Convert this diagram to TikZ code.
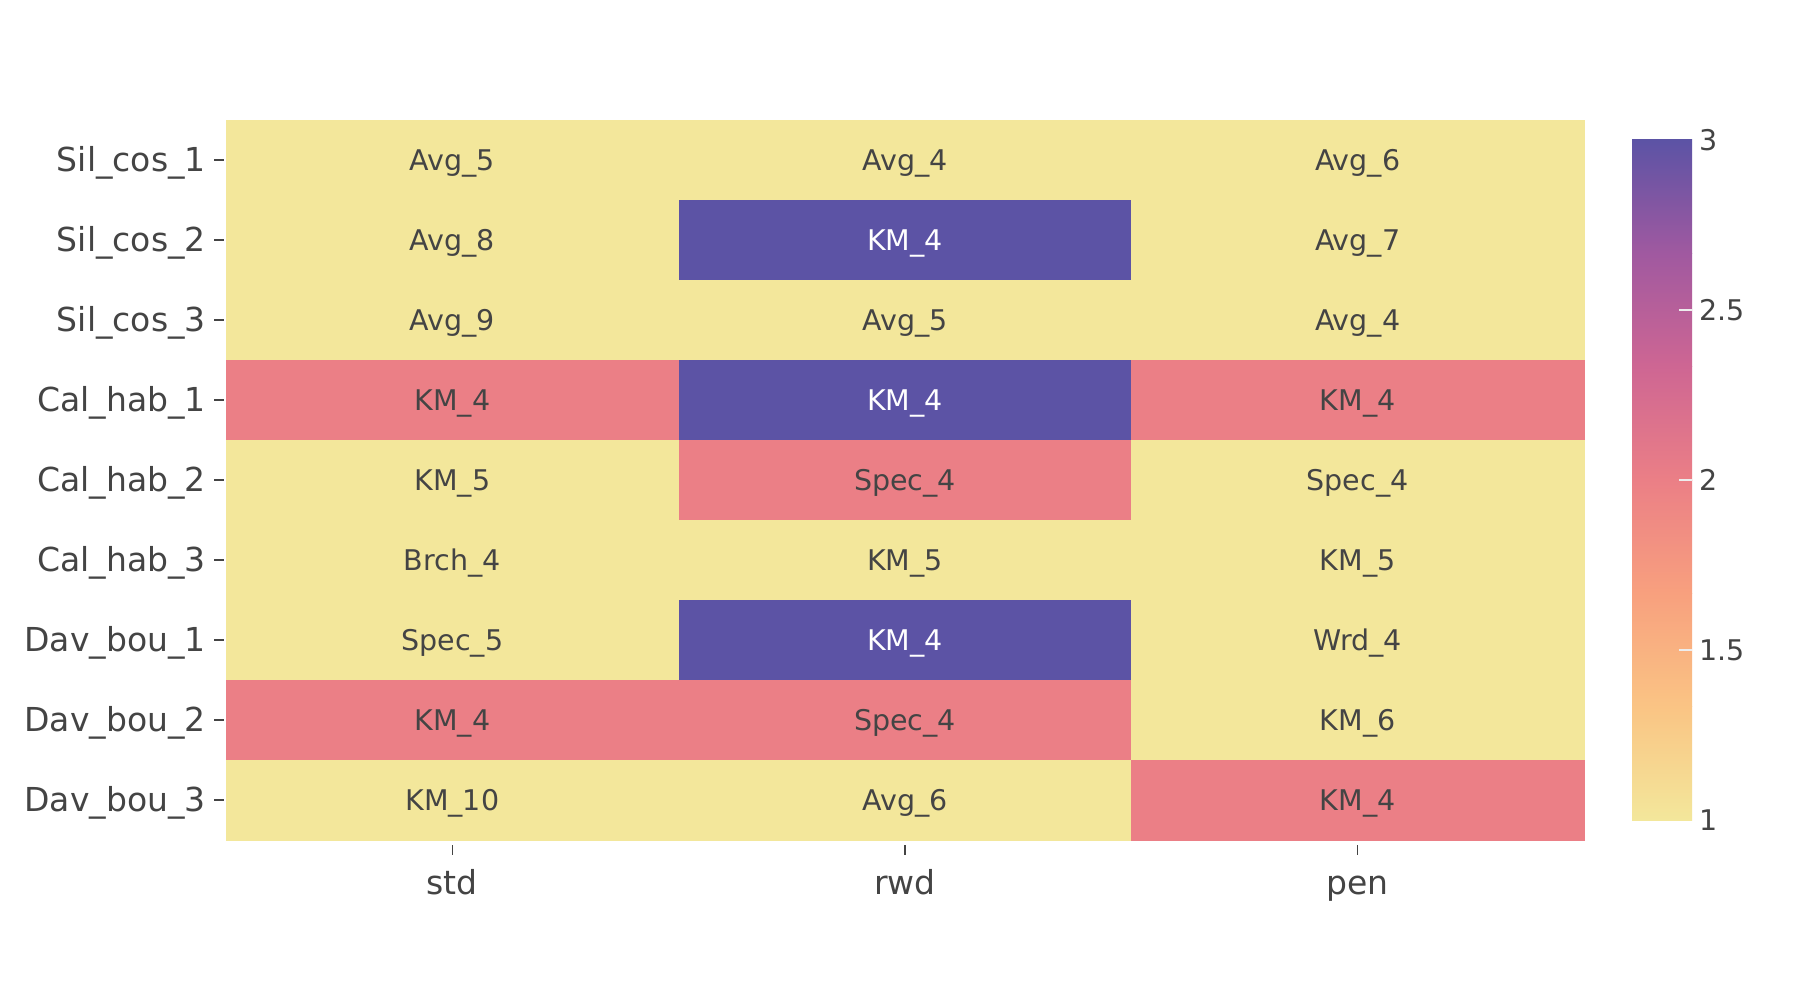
\documentclass[tikz,border=0pt]{standalone}
\usepackage{fontspec}
\setmainfont{DejaVu Sans}
\definecolor{cA}{RGB}{243,231,155}
\definecolor{cB}{RGB}{250,196,132}
\definecolor{cC}{RGB}{248,160,126}
\definecolor{cD}{RGB}{235,127,134}
\definecolor{cE}{RGB}{206,102,147}
\definecolor{cF}{RGB}{160,89,160}
\definecolor{cG}{RGB}{92,83,165}
\definecolor{txt}{RGB}{68,68,68}
\tikzset{
  cellfill/.style={fill=#1, draw=none},
  celltext/.style={anchor=base, inner sep=0pt, font=\fontsize{28.5}{30}\selectfont, text=#1},
  ylab/.style={anchor=base east, inner sep=0pt, font=\fontsize{33}{36}\selectfont, text=txt},
  xlab/.style={anchor=base, inner sep=0pt, font=\fontsize{33}{36}\selectfont, text=txt},
  cblab/.style={anchor=base west, inner sep=0pt, font=\fontsize{28.5}{30}\selectfont, text=txt},
  axtick/.style={draw=txt, line width=1.2pt},
  cbtick/.style={draw=white!93!black, line width=1.5pt}
}
\begin{document}
\begin{tikzpicture}[x=1pt,y=-1pt]
\useasboundingbox[fill=white] (0,0) rectangle (1800,1000);
% cells: row/col/colour/text colour/text
\foreach \r/\c/\col/\tc/\t in {
 1/1/cA/txt/Avg\_5, 1/2/cA/txt/Avg\_4, 1/3/cA/txt/Avg\_6,
 2/1/cA/txt/Avg\_8, 2/2/cG/white/KM\_4, 2/3/cA/txt/Avg\_7,
 3/1/cA/txt/Avg\_9, 3/2/cA/txt/Avg\_5, 3/3/cA/txt/Avg\_4,
 4/1/cD/txt/KM\_4, 4/2/cG/white/KM\_4, 4/3/cD/txt/KM\_4,
 5/1/cA/txt/KM\_5, 5/2/cD/txt/Spec\_4, 5/3/cA/txt/Spec\_4,
 6/1/cA/txt/Brch\_4, 6/2/cA/txt/KM\_5, 6/3/cA/txt/KM\_5,
 7/1/cA/txt/Spec\_5, 7/2/cG/white/KM\_4, 7/3/cA/txt/Wrd\_4,
 8/1/cD/txt/KM\_4, 8/2/cD/txt/Spec\_4, 8/3/cA/txt/KM\_6,
 9/1/cA/txt/KM\_10, 9/2/cA/txt/Avg\_6, 9/3/cD/txt/KM\_4}{
  \pgfmathsetmacro{\xa}{226+452.67*(\c-1)}
  \pgfmathsetmacro{\xb}{226+452.67*\c}
  \pgfmathsetmacro{\ya}{120+80*(\r-1)}
  \pgfmathsetmacro{\yb}{120+80*\r}
  \pgfmathsetmacro{\xm}{226+452.67*(\c-0.5)}
  \pgfmathsetmacro{\ym}{120+80*(\r-0.5)+10.4}
  \fill[cellfill=\col] (\xa,\ya) rectangle (\xb+0.5,\yb+0.5);
  \node[celltext=\tc] (cell-\r-\c) at (\xm,\ym) {\t};
}
% y axis labels and ticks
\foreach \r/\t in {1/Sil\_cos\_1, 2/Sil\_cos\_2, 3/Sil\_cos\_3, 4/Cal\_hab\_1, 5/Cal\_hab\_2, 6/Cal\_hab\_3, 7/Dav\_bou\_1, 8/Dav\_bou\_2, 9/Dav\_bou\_3}{
  \pgfmathsetmacro{\ym}{120+80*(\r-0.5)}
  \node[ylab] (ylab-\r) at (206,\ym+11.5) {\t};
  \draw[axtick] (214,\ym) -- (224,\ym);
}
% x axis labels and ticks
\foreach \c/\t in {1/std, 2/rwd, 3/pen}{
  \pgfmathsetmacro{\xm}{226+452.67*(\c-0.5)}
  \node[xlab] (xlab-\c) at (\xm,894) {\t};
  \draw[axtick] (\xm,845) -- (\xm,855);
}
% colour bar
\shade[top color=cG, bottom color=cF] (1632,140) rectangle (1692,253.33);
\shade[top color=cF, bottom color=cE] (1632,253.33) rectangle (1692,366.67);
\shade[top color=cE, bottom color=cD] (1632,366.67) rectangle (1692,480);
\shade[top color=cD, bottom color=cC] (1632,480) rectangle (1692,593.33);
\shade[top color=cC, bottom color=cB] (1632,593.33) rectangle (1692,706.67);
\shade[top color=cB, bottom color=cA] (1632,706.67) rectangle (1692,820);
\foreach \v/\t in {1/1, 1.5/1.5, 2/2, 2.5/2.5, 3/3}{
  \pgfmathsetmacro{\yv}{820-340*(\v-1)}
  \node[cblab] (cb-\v) at (1699,\yv+10.4) {\t};
}
\foreach \v in {1.5,2,2.5}{
  \pgfmathsetmacro{\yv}{820-340*(\v-1)}
  \draw[cbtick] (1679,\yv) -- (1692,\yv);
}
\end{tikzpicture}
\end{document}
